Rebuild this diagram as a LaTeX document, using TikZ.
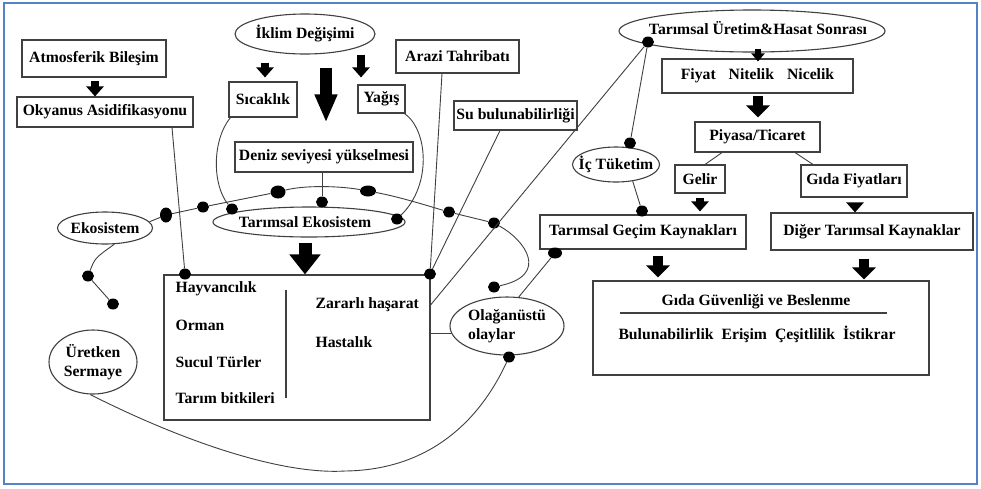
\documentclass[tikz,border=0pt]{standalone}
\usepackage{fontspec}
\setmainfont{Liberation Serif}
\usetikzlibrary{arrows.meta,shapes.geometric,calc}
\definecolor{frameblue}{RGB}{84,130,196}
\definecolor{linegray}{RGB}{64,64,64}
\begin{document}
\begin{tikzpicture}[x=1pt,y=-1pt,
  every node/.style={font=\bfseries\fontsize{15.7}{18.5}\selectfont, text=black},
  box/.style={draw=linegray, line width=1.1pt, rectangle, inner sep=0pt},
  ell/.style={draw=linegray, line width=1.1pt, ellipse, inner sep=0pt},
  dot/.style={fill=black, ellipse, inner sep=0pt, minimum width=12pt, minimum height=11pt},
  link/.style={draw=linegray, line width=0.9pt},
  fatT/.style={line width=6pt, -{Triangle[width=13pt,length=8pt]}},
  fatS/.style={line width=8pt, -{Triangle[width=17pt,length=10pt]}},
  fatM/.style={line width=10pt, -{Triangle[width=23pt,length=12pt]}},
  fatB/.style={line width=12pt, -{Triangle[width=21pt,length=28pt]}},
  fatE/.style={line width=13pt, -{Triangle[width=30pt,length=20pt]}},
]
\fill[white] (0,0) rectangle (981,488);
\useasboundingbox (0,0) rectangle (981,488);

% boxes
\node[box, minimum width=144pt, minimum height=37pt] (atm) at (94,58.5) {Atmosferik Bileşim};
\node[box, minimum width=176pt, minimum height=30pt] (oky) at (105,112) {Okyanus Asidifikasyonu};
\node[box, minimum width=68pt, minimum height=35pt] (sic) at (263,99.5) {Sıcaklık};
\node[box, minimum width=47pt, minimum height=28pt] (yag) at (381.5,99) {Yağış};
\node[box, minimum width=123pt, minimum height=33pt] (arazi) at (457.5,56.5) {Arazi Tahribatı};
\node[box, minimum width=123pt, minimum height=29pt] (su) at (515.5,115.5) {Su bulunabilirliği};
\node[box, minimum width=178pt, minimum height=30pt] (deniz) at (324,157) {Deniz seviyesi yükselmesi};
\node[box, minimum width=266pt, minimum height=145pt] (big) at (297,347.5) {};
\node[box, minimum width=191pt, minimum height=34pt] (fiyat) at (757.5,76) {Fiyat\hspace{13pt}Nitelik\hspace{13pt}Nicelik};
\node[box, minimum width=125pt, minimum height=30pt] (piyasa) at (757.5,137) {Piyasa/Ticaret};
\node[box, minimum width=50pt, minimum height=28pt] (gelir) at (700,179) {Gelir};
\node[box, minimum width=106pt, minimum height=32pt] (gidaf) at (854,181) {Gıda Fiyatları};
\node[box, minimum width=206pt, minimum height=34pt] (gecim) at (643,232) {Tarımsal Geçim Kaynakları};
\node[box, minimum width=202pt, minimum height=37pt] (diger) at (872,231.5) {Diğer Tarımsal Kaynaklar};
\node[box, minimum width=336pt, minimum height=94pt] (guv) at (761,328) {};
\node (guvt) at (756,302) {Gıda Güvenliği ve Beslenme};
\node (guvi) at (757,334) {Bulunabilirlik\hspace{8pt}Erişim\hspace{8pt}Çeşitlilik\hspace{8pt}İstikrar};
\draw[link, line width=1.1pt] (620,313) -- (887,313);

% ellipses
\node[ell, minimum width=140pt, minimum height=40pt, label={center:İklim Değişimi}] (iklim) at (305,34) {};
\node[ell, minimum width=192pt, minimum height=30pt, label={[xshift=-4pt]center:Tarımsal Ekosistem}] (ekos) at (309,222) {};
\node[ell, minimum width=95pt, minimum height=32pt, label={center:Ekosistem}] (eko) at (105,228) {};
\node[ell, minimum width=88pt, minimum height=64pt, label={[align=center]center:{Üretken\\Sermaye}}] (uret) at (93,362) {};
\node[ell, minimum width=87pt, minimum height=35pt, label={center:İç Tüketim}] (ic) at (616,164.5) {};
\node[ell, minimum width=266pt, minimum height=42pt, label={[xshift=6pt,yshift=3pt]center:Tarımsal Üretim\&Hasat Sonrası}] (tu) at (752,31) {};
\node[ell, minimum width=114pt, minimum height=58pt, label={[align=left]center:{Olağanüstü\\olaylar}}] (ola) at (507,326) {};

% texts in big box
\node[anchor=west] (hay) at (172,289) {Hayvancılık};
\node[anchor=west] (orm) at (172,325) {Orman};
\node[anchor=west] (suc) at (172,362) {Sucul Türler};
\node[anchor=west] (tar) at (172,398) {Tarım bitkileri};
\node[anchor=west] (zar) at (312,305) {Zararlı haşarat};
\node[anchor=west] (has) at (312,342) {Hastalık};
\draw[linegray, line width=1.3pt] (286,290) -- (286,398);

% dots
\node[dot] (dhay) at (185,274) {};
\node[dot] (dbr) at (430,274) {};
\node[dot, minimum width=12pt, minimum height=15pt] (d1) at (166,215) {};
\node[dot] (d2) at (203,207) {};
\node[dot] (ds) at (232,209) {};
\node[dot, minimum width=15pt, minimum height=13pt] (d3) at (278,192) {};
\node[dot] (dd) at (322,202) {};
\node[dot, minimum width=16pt, minimum height=11pt] (d4) at (368,191) {};
\node[dot] (dy) at (397,219) {};
\node[dot] (d5) at (449,212) {};
\node[dot] (d6) at (494,223) {};
\node[dot] (d7) at (494,287) {};
\node[dot] (dtu) at (648,42) {};
\node[dot] (dic) at (630,143) {};
\node[dot] (dgec) at (642,211) {};
\node[dot, minimum width=14pt] (dgec2) at (555,253) {};
\node[dot] (dola) at (509,357) {};
\node[dot] (ded1) at (88,276) {};
\node[dot] (ded2) at (113,304) {};

% connectors
\draw[link] ([xshift=67pt]oky.south) -- (dhay);
\draw[link] ([xshift=-15.5pt]arazi.south) -- (dbr);
\draw[link] ([xshift=-15.5pt]su.south) -- (dbr);
\draw[link] (dtu) -- ([yshift=42.5pt]big.east);
\draw[link] (dtu) -- (dic);
\draw[link] (ic.-45) -- (dgec);
\draw[link] (dgec2) -- (ola.68);
\draw[link] (ola.188) -- (ola.188 -| big.east);
\draw[link] (uret.265) .. controls (180,440) and (280,475) .. (345,471) .. controls (430,470) and (480,420) .. (dola);
\draw[link] (eko.-60) .. controls (95,258) .. (ded1) -- (ded2);
\draw[link] (eko.8) -- (d1) -- (d2) -- (d3) .. controls (305,185) and (340,186) .. (d4) .. controls (400,197) and (425,205) .. (d5) -- (d6) .. controls (525,240) and (550,275) .. (d7);
\draw[link] ([xshift=2pt]sic.south west) .. controls (212,140) and (212,185) .. (ds);
\draw[link] ([xshift=-1pt]yag.south east) .. controls (428,130) and (432,185) .. (dy);
\draw[link] (dd |- deniz.south) -- (dd);
\draw[link] ([xshift=-35.5pt]piyasa.south) -- ([xshift=5pt]gelir.north);
\draw[link] ([xshift=37.5pt]piyasa.south) -- ([xshift=-41pt]gidaf.north);

% fat arrows
\draw[fatS, shorten <=3pt] ([xshift=1pt]atm.south) -- ([xshift=1pt]atm.south |- oky.north);
\draw[fatS, shorten <=8pt, shorten >=4pt] ([xshift=2pt]sic.north |- iklim.south) -- ([xshift=2pt]sic.north);
\draw[fatS, shorten >=7pt] ([xshift=-20.5pt]yag.north |- iklim.south) -- ([xshift=-20.5pt]yag.north);
\draw[fatB, shorten <=13pt, shorten >=19pt] ([xshift=2pt]deniz.north |- iklim.south) -- ([xshift=2pt]deniz.north);
\draw[fatE, shorten <=5pt] ([xshift=8pt]big.north |- ekos.south) -- ([xshift=8pt]big.north);
\draw[fatT, shorten <=-4pt, shorten >=-3pt] ([xshift=0.5pt]fiyat.north |- tu.south) -- ([xshift=0.5pt]fiyat.north);
\draw[fatM, shorten <=2pt, shorten >=4pt] ([xshift=0.5pt]fiyat.south) -- ([xshift=0.5pt]piyasa.north);
\draw[fatS, shorten <=4pt, shorten >=3pt] (gelir.south) -- (gelir.south |- gecim.north);
\draw[fatS, shorten <=5pt] ([xshift=1pt]gidaf.south) -- ([xshift=1pt]gidaf.south |- diger.north);
\draw[fatM, shorten <=6pt, shorten >=3pt] ([xshift=15pt]gecim.south) -- ([xshift=15pt]gecim.south |- guv.north);
\draw[fatM, shorten <=8pt, shorten >=1pt] ([xshift=-8pt]diger.south) -- ([xshift=-8pt]diger.south |- guv.north);

% frame
\draw[frameblue, line width=2.2pt] (4,3) rectangle (977,484);
\end{tikzpicture}
\end{document}
